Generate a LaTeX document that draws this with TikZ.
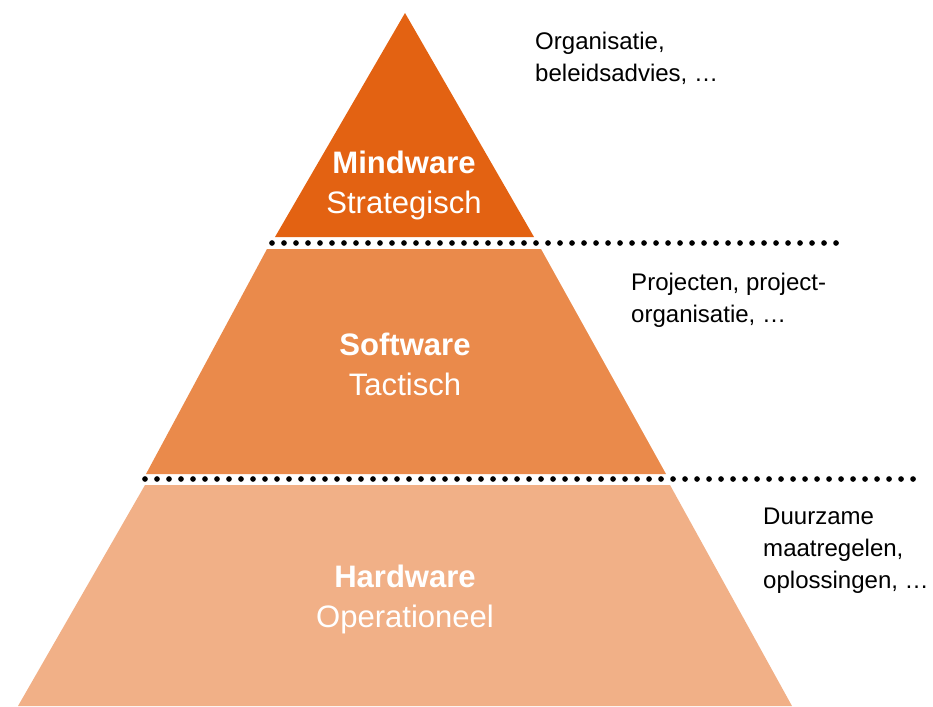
\documentclass[tikz,border=0pt]{standalone}
\usepackage{fontspec}
\setmainfont{Liberation Sans}
\usepackage{tikz}

\definecolor{mindoranje}{RGB}{227,98,18}
\definecolor{softoranje}{RGB}{234,138,75}
\definecolor{hardoranje}{RGB}{241,176,135}

\begin{document}
\begin{tikzpicture}[x=0.03cm, y=-0.03cm,
	laag/.style={align=center, text=white, inner sep=0pt, anchor=north, font=\fontsize{26.5}{34.1}\selectfont},
	uitleg/.style={align=left, inner sep=0pt, anchor=north west, font=\fontsize{20.5}{27.3}\selectfont},
	stippel/.style={line width=0.17cm, line cap=round, dash pattern=on 0pt off 0.36cm}]
	\useasboundingbox (0,0) rectangle (933,706);
	% de drie lagen van de piramide
	\fill[mindoranje] (405,13) -- (534,237) -- (275,237) -- cycle;
	\fill[softoranje] (267,249) -- (541,249) -- (666,474) -- (146,474) -- cycle;
	\fill[hardoranje] (145,485) -- (670,485) -- (792,706) -- (18,706) -- cycle;
	% stippellijnen tussen de lagen
	\draw[stippel] (272,243) -- (837,243);
	\draw[stippel] (145,479) -- (920,479);
	% namen in de lagen
	\node[laag] (mind) at (404,151) {\textbf{Mindware}\\Strategisch};
	\node[laag] (soft) at (405,333) {\textbf{Software}\\Tactisch};
	\node[laag] (hard) at (405,565) {\textbf{Hardware}\\Operationeel};
	% toelichting rechts
	\node[uitleg] (org) at (535,32) {Organisatie,\\beleidsadvies, …};
	\node[uitleg] (proj) at (631,273) {Projecten, project-\\organisatie, …};
	\node[uitleg] (duur) at (763,508) {Duurzame\\maatregelen,\\oplossingen, …};
\end{tikzpicture}
\end{document}
